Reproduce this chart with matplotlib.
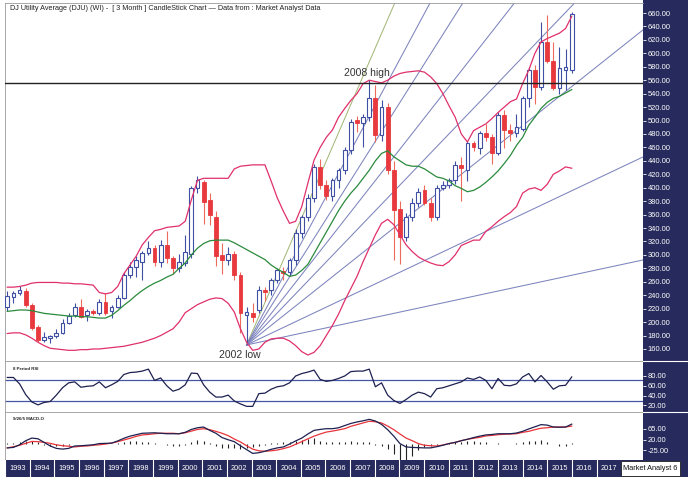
import matplotlib.pyplot as plt
from matplotlib.patches import Rectangle
from matplotlib.lines import Line2D
import numpy as np

plt.rcParams['font.family'] = ['Liberation Sans', 'DejaVu Sans']

# DJ Utility Average, quarterly candles 1993 Q1 .. 2016 Q1
opens = [222, 238, 243, 247, 226, 193, 174, 176, 179, 184, 199, 211,
         223, 211, 217, 213, 230, 216, 223, 236, 270, 282, 290, 303,
         310, 290, 315, 295, 280, 288, 302, 399, 409, 382, 357, 300,
         293, 302, 270, 211, 214, 218, 248, 248, 263, 276, 275, 293,
         332, 357, 384, 431, 404, 387, 411, 426, 456, 501, 497, 505,
         533, 478, 520, 426, 369, 327, 357, 377, 396, 377, 357, 399,
         404, 411, 434, 427, 466, 459, 481, 476, 451, 508, 486, 481,
         488, 533, 575, 550, 617, 588, 548, 575, 575]
highs = [246, 247, 253, 251, 228, 196, 186, 181, 190, 205, 214, 228,
         235, 220, 219, 234, 243, 226, 240, 274, 290, 298, 306, 320,
         315, 322, 335, 298, 302, 330, 402, 418, 412, 392, 366, 318,
         312, 306, 274, 222, 228, 254, 252, 266, 280, 282, 295, 338,
         360, 390, 435, 442, 412, 415, 430, 460, 502, 506, 510, 560,
         553, 530, 526, 440, 380, 362, 385, 400, 404, 385, 404, 410,
         415, 440, 446, 470, 470, 484, 495, 480, 512, 516, 495, 510,
         536, 580, 582, 647, 657, 617, 610, 607, 662]
lows = [216, 228, 240, 222, 188, 171, 171, 169, 176, 182, 197, 208,
        206, 201, 210, 211, 211, 206, 221, 234, 266, 267, 263, 300,
        283, 282, 288, 272, 275, 284, 296, 392, 346, 345, 283, 272,
        285, 262, 184, 166, 200, 214, 232, 240, 258, 262, 268, 285,
        325, 350, 378, 398, 382, 380, 400, 420, 450, 483, 460, 500,
        468, 470, 420, 292, 287, 320, 350, 372, 375, 350, 352, 396,
        400, 405, 380, 410, 455, 450, 470, 436, 448, 459, 470, 476,
        485, 520, 525, 545, 585, 545, 540, 545, 570]
closes = [239, 243, 248, 226, 191, 174, 178, 180, 184, 199, 209, 223,
          208, 217, 213, 230, 213, 223, 236, 270, 282, 292, 303, 310,
          290, 315, 295, 280, 290, 305, 399, 411, 379, 360, 298, 293,
          302, 270, 213, 215, 207, 248, 245, 263, 278, 273, 293, 332,
          357, 384, 431, 404, 387, 411, 426, 456, 498, 497, 505, 533,
          478, 520, 426, 367, 327, 357, 377, 394, 377, 357, 399, 404,
          411, 434, 430, 466, 461, 481, 476, 451, 508, 486, 481, 491,
          533, 575, 550, 617, 588, 548, 578, 580, 659]

bb_upper = [252, 252, 253, 255, 258, 259, 259, 259, 259, 258, 258, 257,
            257, 256, 255, 244, 242, 244, 253, 272, 285, 298, 315, 326,
            336, 338, 341, 342, 343, 350, 382, 411, 414, 414, 414, 414,
            414, 428, 432, 433, 434, 434, 434, 410, 385, 365, 347, 350,
            372, 407, 441, 460, 475, 486, 505, 518, 530, 540, 555, 560,
            558, 556, 560, 566, 570, 572, 573, 574, 572, 565, 555, 540,
            522, 505, 480, 468, 485, 490, 495, 503, 512, 520, 528, 532,
            555, 575, 600, 617, 622, 626, 630, 637, 655]
bb_mid = [216, 217, 218, 218, 217, 215, 213, 212, 211, 210, 209, 209,
          208, 208, 207, 206, 206, 210, 217, 225, 232, 240, 247, 253,
          258, 262, 267, 271, 280, 288, 300, 310, 317, 321, 322, 322,
          322, 318, 313, 308, 303, 298, 293, 285, 279, 274, 268, 270,
          277, 286, 302, 318, 334, 350, 366, 380, 392, 402, 414, 426,
          440, 451, 455, 446, 440, 434, 432, 432, 428, 422, 416, 414,
          410, 403, 399, 394, 396, 401, 408, 416, 425, 436, 448, 463,
          475, 493, 505, 518, 527, 533, 536, 541, 546]
bb_lower = [183, 184, 184, 181, 176, 170, 165, 161, 160, 159, 158, 158,
            159, 159, 160, 160, 161, 162, 163, 164, 166, 168, 170, 173,
            176, 180, 185, 190, 200, 214, 220, 226, 230, 234, 236, 235,
            228, 215, 190, 170, 158, 160, 170, 175, 176, 176, 172, 165,
            156, 151, 155, 165, 180, 195, 212, 232, 250, 268, 290, 310,
            330, 347, 353, 345, 330, 315, 305, 297, 292, 288, 285, 284,
            290, 300, 314, 318, 322, 322, 335, 342, 350, 357, 363, 372,
            392, 398, 400, 396, 405, 420, 425, 431, 429]

rsi = [77, 77, 64, 42, 27, 21, 26, 28, 41, 56, 66, 68,
       57, 59, 60, 68, 56, 62, 69, 83, 87, 88, 90, 94,
       71, 76, 60, 49, 53, 62, 86, 85, 62, 47, 37, 37,
       41, 29, 23, 18, 18, 44, 45, 53, 58, 60, 66, 80,
       85, 88, 92, 73, 69, 71, 75, 80, 89, 90, 90, 94,
       58, 66, 41, 30, 24, 32, 41, 47, 44, 37, 54, 56,
       60, 64, 68, 76, 73, 78, 71, 54, 75, 61, 60, 64,
       78, 85, 68, 81, 68, 53, 60, 61, 78]

macd = [-15, -13, -2, 15, 26, 23, 8, -7, -17, -20, -17, -7,
        -6, -4, -2, 3, 4, 5, 14, 25, 34, 40, 46, 47,
        48, 46, 44, 44, 44, 50, 62, 69, 72, 58, 46, 28,
        19, 11, -6, -22, -38, -35, -29, -21, -15, -11, 1, 14,
        26, 43, 58, 62, 65, 65, 69, 78, 87, 93, 98, 104,
        97, 83, 61, 34, 3, -11, -13, -14, -15, -15, -10, -4,
        3, 8, 15, 21, 28, 34, 39, 41, 44, 44, 44, 47,
        54, 64, 73, 82, 80, 72, 71, 72, 84]
macd_signal = [-15, -10, -4, 4, 12, 11, 8, 4, -2, -6, -8, -11,
               -8, -7, -4, -2, 1, 5, 11, 18, 25, 33, 39, 41,
               44, 46, 46, 46, 44, 48, 55, 62, 65, 61, 54, 46,
               36, 22, 10, -6, -20, -27, -29, -27, -24, -18, -11, 0,
               11, 23, 34, 43, 51, 55, 60, 65, 75, 82, 89, 96,
               94, 89, 76, 61, 43, 26, 15, 3, -4, -6, -7, -3,
               3, 8, 15, 21, 25, 29, 35, 37, 40, 42, 43, 44,
               50, 54, 61, 67, 69, 72, 72, 72, 76]
macd_hist = [4, 6, 8, 12, 14, 8, -4, -8, -8, -6, -4, 3,
             3, 2, 2, 3, 3, 2, 4, 8, 12, 12, 10, 8,
             5, 3, -2, -6, -6, -3, 10, 16, 14, 6, -8, -14,
             -14, -16, -18, -14, -10, -6, -3, 4, 6, 8, 10, 14,
             18, 22, 26, 14, 10, 8, 8, 10, 12, 10, 8, 10,
             -4, -8, -20, -40, -70, -80, -50, -25, -10, -8, -3, 3,
             5, 8, 10, 12, 12, 10, 8, 3, 5, 3, 3, 5,
             8, 15, 12, 18, 10, 3, -5, -6, 6]

years = list(range(1993, 2018))
high_2008 = 556
low_2002 = (39.0, 166)
fan_x = [63.4, 69.2, 74.6, 83.1, 93.0, 103.6, 103.6, 103.6]
fan_y = [680, 680, 680, 680, 680, 634.7, 445.7, 292.4]

NAVY = '#272a5c'
UP = '#3f4fa3'
DOWN = '#e8393e'
BAND = '#e0306b'
GREEN = '#2a8a3c'
W, H = 688.0, 482.0


def fbox(x0, y0, x1, y1):
    # pixel box -> figure fraction rect
    return [x0 / W, 1 - y1 / H, (x1 - x0) / W, (y1 - y0) / H]


fig = plt.figure(figsize=(6.88, 4.82), dpi=100)
fig.add_artist(Rectangle((643 / W, 1 - 460 / H), 45 / W, 460 / H,
                         transform=fig.transFigure, facecolor=NAVY,
                         edgecolor='none', zorder=-5))

ax = fig.add_axes(fbox(5, 3, 643, 361))
ax_rsi = fig.add_axes(fbox(5, 361, 643, 412))
ax_macd = fig.add_axes(fbox(5, 412, 643, 460))
ax_year = fig.add_axes(fbox(5, 460, 688, 477))

x = np.arange(len(closes))
xlim = (-0.375, 103.62)

for a in (ax, ax_rsi, ax_macd):
    a.set_xlim(*xlim)
    a.set_xticks([])
    a.yaxis.tick_right()
    a.tick_params(axis='y', colors='white', labelsize=5.4, length=2,
                  width=0.6, pad=1.5)
    for s in a.spines.values():
        s.set_color('#9a9a9a')
        s.set_linewidth(0.6)
    a.spines['right'].set_visible(False)

# ---- main price panel
ax.set_ylim(142.1, 674.9)
ticks = list(range(160, 661, 20))
ax.set_yticks(ticks)
ax.set_yticklabels([f"{t:.2f}" for t in ticks])

o = np.array(opens)
c = np.array(closes)
up = c >= o
wick_col = np.where(up, UP, '#ee6a5a')
ax.vlines(x, lows, highs, colors=wick_col, linewidth=0.8, zorder=3)
body_h = np.maximum(np.abs(c - o), 1.2)
ax.bar(x[up], body_h[up], bottom=np.minimum(o, c)[up], width=0.62,
       facecolor='white', edgecolor=UP, linewidth=0.8, zorder=4)
ax.bar(x[~up], body_h[~up], bottom=np.minimum(o, c)[~up], width=0.62,
       facecolor=DOWN, edgecolor=DOWN, linewidth=0.6, zorder=4)

ax.plot(x, bb_upper, color=BAND, lw=0.9, zorder=5)
ax.plot(x, bb_lower, color=BAND, lw=0.9, zorder=5)
ax.plot(x, bb_mid, color=GREEN, lw=0.9, zorder=5)

# fan lines from the 2002 low
for k, (fx, fy) in enumerate(zip(fan_x, fan_y)):
    col = '#a5b879' if k == 0 else '#7d84bd'
    ax.plot([low_2002[0], fx], [low_2002[1], fy], color=col, lw=0.75,
            zorder=2)

ax.axhline(high_2008, color='#222222', lw=1.0, zorder=6)
ax.text(58.6, 571, "2008 high", ha='center', va='center', fontsize=7.5,
        color='#333333', zorder=7)
ax.text(37.9, 151, "2002 low", ha='center', va='center', fontsize=7.5,
        color='#333333', zorder=7)
ax.text(0.4, 667, "DJ Utility Average (DJU) (WI) -  [ 3 Month ] CandleStick "
        "Chart \u2014 Data from : Market Analyst Data", ha='left', va='center',
        fontsize=5.2, color='#222222')

# ---- RSI panel
ax_rsi.set_ylim(6.5, 110.6)
ax_rsi.set_yticks([80, 60, 40, 20])
ax_rsi.set_yticklabels(["80.00", "60.00", "40.00", "20.00"])
ax_rsi.axhline(71, color='#4455a5', lw=0.9)
ax_rsi.axhline(28.5, color='#4455a5', lw=0.9)
ax_rsi.plot(x, rsi, color='#1e2150', lw=0.9)
ax_rsi.text(1.0, 95, "8 Period RSI", fontsize=3.2, fontweight='bold',
            color='#222222', va='center')

# ---- MACD panel
ax_macd.set_ylim(-65.4, 134.6)
ax_macd.set_yticks([65, 20, -25])
ax_macd.set_yticklabels(["65.00", "20.00", "-25.00"])
ax_macd.vlines(x, 0, macd_hist, colors='#222222', linewidth=0.8)
ax_macd.plot(x, macd_signal, color='#e8343a', lw=0.9)
ax_macd.plot(x, macd, color='#1e2150', lw=0.9)
ax_macd.text(1.0, 104, "9/26/5 MACD-O", fontsize=3.2, fontweight='bold',
             color='#222222', va='center')

# ---- year strip (pixel coordinates)
ax_year.set_xlim(5, 688)
ax_year.set_ylim(0, 1)
ax_year.set_facecolor(NAVY)
ax_year.set_xticks([])
ax_year.set_yticks([])
for s in ax_year.spines.values():
    s.set_visible(False)
step = 24.65
for k, yr in enumerate(years):
    x0 = 5 + k * step
    ax_year.axvline(x0, color='white', lw=0.8)
    ax_year.text(x0 + step / 2, 0.5, str(yr), ha='center', va='center',
                 fontsize=5.3, color='white')
ax_year.add_patch(Rectangle((621, 0.08), 59, 0.84, facecolor='white',
                            edgecolor='#222222', lw=0.6))
ax_year.text(650.5, 0.5, "Market Analyst 6", ha='center', va='center',
             fontsize=5.3, color='#111111')

# separators in the navy column
for py in (361, 412):
    fig.add_artist(Line2D([643 / W, 1], [1 - py / H, 1 - py / H],
                          transform=fig.transFigure, color='white', lw=0.8))

fig.savefig('out.png', dpi=100)
